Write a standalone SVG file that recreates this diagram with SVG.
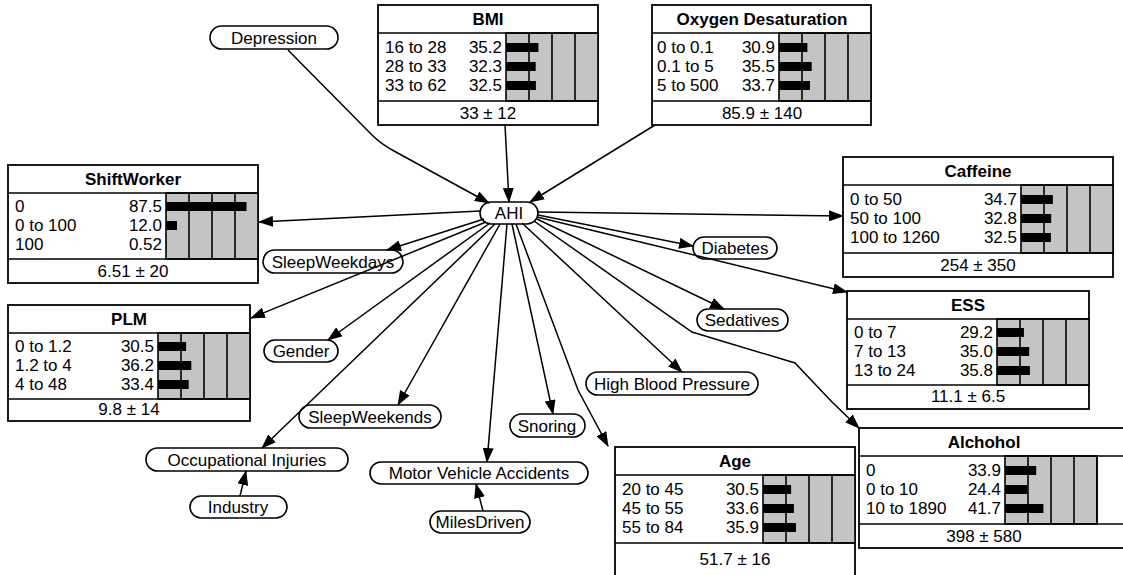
<svg xmlns="http://www.w3.org/2000/svg" width="1123" height="575" viewBox="0 0 1123 575">
<defs>
<marker id="arr" markerUnits="userSpaceOnUse" markerWidth="15" markerHeight="11" refX="14" refY="5.5" orient="auto">
<path d="M0,0 L15,5.5 L0,11 z" fill="#000"/>
</marker>
</defs>
<style>
text{font-family:"Liberation Sans",Arial,sans-serif;font-size:17px;fill:#000}
.t{font-weight:bold;text-anchor:middle}
.c{text-anchor:middle}
.v{text-anchor:end}
.box{fill:#fff;stroke:#000;stroke-width:1.8}
.pill{fill:#fff;stroke:#000;stroke-width:1.6}
.sh{fill:#c4c4c4;stroke:#000;stroke-width:1.6}
.gl{stroke:#000;stroke-width:1.6}
.bar{fill:#000}
.dv{stroke:#000;stroke-width:1.6}
.ln{fill:none;stroke:#000;stroke-width:1.5;marker-end:url(#arr)}
</style>
<rect width="1123" height="575" fill="#fff"/>

<g id="AHI"><rect class="pill" x="480" y="202" width="58" height="22" rx="11"/><text class="c" x="509" y="219">AHI</text></g>
<g id="Depression"><rect class="pill" x="210" y="26" width="128" height="23" rx="11.5"/><text class="c" x="274" y="43.5">Depression</text></g>
<g id="SleepWeekdays"><rect class="pill" x="263" y="250" width="140" height="23" rx="11.5"/><text class="c" x="333" y="267.5">SleepWeekdays</text></g>
<g id="Diabetes"><rect class="pill" x="693" y="237" width="84" height="22" rx="11"/><text class="c" x="735" y="254">Diabetes</text></g>
<g id="Sedatives"><rect class="pill" x="697" y="309" width="91" height="22" rx="11"/><text class="c" x="742" y="326">Sedatives</text></g>
<g id="Gender"><rect class="pill" x="264" y="340" width="74" height="22" rx="11"/><text class="c" x="301" y="357">Gender</text></g>
<g id="HighBloodPressure"><rect class="pill" x="586" y="372" width="172" height="23" rx="11.5"/><text class="c" x="672" y="389.5">High Blood Pressure</text></g>
<g id="SleepWeekends"><rect class="pill" x="299" y="405" width="142" height="23" rx="11.5"/><text class="c" x="370" y="422.5">SleepWeekends</text></g>
<g id="Snoring"><rect class="pill" x="510" y="414" width="75" height="23" rx="11.5"/><text class="c" x="547" y="431.5">Snoring</text></g>
<g id="OccupationalInjuries"><rect class="pill" x="146" y="448" width="202" height="23" rx="11.5"/><text class="c" x="247" y="465.5">Occupational Injuries</text></g>
<g id="MotorVehicleAccidents"><rect class="pill" x="370" y="462" width="218" height="22" rx="11"/><text class="c" x="479" y="479">Motor Vehicle Accidents</text></g>
<g id="Industry"><rect class="pill" x="190" y="496" width="97" height="22" rx="11"/><text class="c" x="238" y="513">Industry</text></g>
<g id="MilesDriven"><rect class="pill" x="430" y="511" width="100" height="22" rx="11"/><text class="c" x="480" y="528">MilesDriven</text></g>

<!-- links are drawn over the oval nodes, so a link that crosses a label stays visible -->
<g id="connectors">
<path class="ln" d="M288,50 L372,135 Q381,144 394,151 L489,203"/>
<path class="ln" d="M505,125 L509,202"/>
<path class="ln" d="M655,125 L530,202"/>
<path class="ln" d="M480,211 L259,222"/>
<path class="ln" d="M538,212 L843,216"/>
<path class="ln" d="M484,219 L387,250"/>
<path class="ln" d="M538,215 L693,246"/>
<path class="ln" d="M486,222 L251,318"/>
<path class="ln" d="M490,223 L328,340"/>
<path class="ln" d="M537,219 L724,309"/>
<path class="ln" d="M537,217 L847,292"/>
<path class="ln" d="M500,224 L398,405"/>
<path class="ln" d="M495,224 L262,448"/>
<path class="ln" d="M507,224 L487,462"/>
<path class="ln" d="M512,224 L553,414"/>
<path class="ln" d="M516,224 L578,390 L608,446"/>
<path class="ln" d="M522,223 L682,372"/>
<path class="ln" d="M534,221 L692,332 L795,363 L832,402 L859,428"/>
<path class="ln" d="M240,496 L246,471"/>
<path class="ln" d="M483,511 L476,484"/>
</g>

<!-- Boxes: title band 28, states 68, summary 24; bar area is the right 92px -->
<g id="BMI" transform="translate(378,5)">
<rect class="box" width="220" height="120"/>
<rect class="sh" x="128" y="28" width="92" height="68"/>
<line class="gl" x1="151" y1="28" x2="151" y2="96"/><line class="gl" x1="174" y1="28" x2="174" y2="96"/><line class="gl" x1="197" y1="28" x2="197" y2="96"/>
<rect class="bar" x="128" y="38" width="32.4" height="9"/><rect class="bar" x="128" y="57" width="29.7" height="9"/><rect class="bar" x="128" y="76" width="29.9" height="9"/>
<line class="dv" x1="0" y1="28" x2="220" y2="28"/><line class="dv" x1="0" y1="96" x2="220" y2="96"/>
<text class="t" x="110" y="20">BMI</text>
<text x="7" y="48">16 to 28</text><text class="v" x="124" y="48">35.2</text>
<text x="7" y="67">28 to 33</text><text class="v" x="124" y="67">32.3</text>
<text x="7" y="86">33 to 62</text><text class="v" x="124" y="86">32.5</text>
<text class="c" x="110" y="114">33 ± 12</text>
</g>

<g id="OxygenDesaturation" transform="translate(652,5)">
<rect class="box" width="219" height="120"/>
<rect class="sh" x="127" y="28" width="92" height="68"/>
<line class="gl" x1="150" y1="28" x2="150" y2="96"/><line class="gl" x1="173" y1="28" x2="173" y2="96"/><line class="gl" x1="196" y1="28" x2="196" y2="96"/>
<rect class="bar" x="127" y="38" width="28.4" height="9"/><rect class="bar" x="127" y="57" width="32.7" height="9"/><rect class="bar" x="127" y="76" width="31" height="9"/>
<line class="dv" x1="0" y1="28" x2="219" y2="28"/><line class="dv" x1="0" y1="96" x2="219" y2="96"/>
<text class="t" x="110" y="20">Oxygen Desaturation</text>
<text x="5" y="48">0 to 0.1</text><text class="v" x="123" y="48">30.9</text>
<text x="5" y="67">0.1 to 5</text><text class="v" x="123" y="67">35.5</text>
<text x="5" y="86">5 to 500</text><text class="v" x="123" y="86">33.7</text>
<text class="c" x="110" y="114">85.9 ± 140</text>
</g>

<g id="ShiftWorker" transform="translate(8,165)">
<rect class="box" width="250" height="118"/>
<rect class="sh" x="158" y="28" width="92" height="66"/>
<line class="gl" x1="181" y1="28" x2="181" y2="94"/><line class="gl" x1="204" y1="28" x2="204" y2="94"/><line class="gl" x1="227" y1="28" x2="227" y2="94"/>
<rect class="bar" x="158" y="37" width="80.5" height="9"/><rect class="bar" x="158" y="56" width="11" height="9"/><rect class="bar" x="158" y="75" width="0.5" height="9"/>
<line class="dv" x1="0" y1="28" x2="250" y2="28"/><line class="dv" x1="0" y1="94" x2="250" y2="94"/>
<text class="t" x="125" y="20">ShiftWorker</text>
<text x="7" y="47">0</text><text class="v" x="154" y="47">87.5</text>
<text x="7" y="66">0 to 100</text><text class="v" x="154" y="66">12.0</text>
<text x="7" y="85">100</text><text class="v" x="154" y="85">0.52</text>
<text class="c" x="125" y="112">6.51 ± 20</text>
</g>

<g id="Caffeine" transform="translate(843,157)">
<rect class="box" width="270" height="120"/>
<rect class="sh" x="178" y="28" width="92" height="68"/>
<line class="gl" x1="201" y1="28" x2="201" y2="96"/><line class="gl" x1="224" y1="28" x2="224" y2="96"/><line class="gl" x1="247" y1="28" x2="247" y2="96"/>
<rect class="bar" x="178" y="38" width="31.9" height="9"/><rect class="bar" x="178" y="57" width="30.2" height="9"/><rect class="bar" x="178" y="76" width="29.9" height="9"/>
<line class="dv" x1="0" y1="28" x2="270" y2="28"/><line class="dv" x1="0" y1="96" x2="270" y2="96"/>
<text class="t" x="135" y="20">Caffeine</text>
<text x="7" y="48">0 to 50</text><text class="v" x="174" y="48">34.7</text>
<text x="7" y="67">50 to 100</text><text class="v" x="174" y="67">32.8</text>
<text x="7" y="86">100 to 1260</text><text class="v" x="174" y="86">32.5</text>
<text class="c" x="135" y="114">254 ± 350</text>
</g>

<g id="PLM" transform="translate(8,305)">
<rect class="box" width="242" height="116"/>
<rect class="sh" x="150" y="28" width="92" height="66"/>
<line class="gl" x1="173" y1="28" x2="173" y2="94"/><line class="gl" x1="196" y1="28" x2="196" y2="94"/><line class="gl" x1="219" y1="28" x2="219" y2="94"/>
<rect class="bar" x="150" y="37" width="28.1" height="9"/><rect class="bar" x="150" y="56" width="33.3" height="9"/><rect class="bar" x="150" y="75" width="30.7" height="9"/>
<line class="dv" x1="0" y1="28" x2="242" y2="28"/><line class="dv" x1="0" y1="94" x2="242" y2="94"/>
<text class="t" x="121" y="20">PLM</text>
<text x="7" y="47">0 to 1.2</text><text class="v" x="146" y="47">30.5</text>
<text x="7" y="66">1.2 to 4</text><text class="v" x="146" y="66">36.2</text>
<text x="7" y="85">4 to 48</text><text class="v" x="146" y="85">33.4</text>
<text class="c" x="121" y="110">9.8 ± 14</text>
</g>

<g id="ESS" transform="translate(847,291)">
<rect class="box" width="242" height="118"/>
<rect class="sh" x="150" y="28" width="92" height="66"/>
<line class="gl" x1="173" y1="28" x2="173" y2="94"/><line class="gl" x1="196" y1="28" x2="196" y2="94"/><line class="gl" x1="219" y1="28" x2="219" y2="94"/>
<rect class="bar" x="150" y="37" width="26.9" height="9"/><rect class="bar" x="150" y="56" width="32.2" height="9"/><rect class="bar" x="150" y="75" width="32.9" height="9"/>
<line class="dv" x1="0" y1="28" x2="242" y2="28"/><line class="dv" x1="0" y1="94" x2="242" y2="94"/>
<text class="t" x="121" y="20">ESS</text>
<text x="7" y="47">0 to 7</text><text class="v" x="146" y="47">29.2</text>
<text x="7" y="66">7 to 13</text><text class="v" x="146" y="66">35.0</text>
<text x="7" y="85">13 to 24</text><text class="v" x="146" y="85">35.8</text>
<text class="c" x="121" y="111">11.1 ± 6.5</text>
</g>

<g id="Age" transform="translate(615,447)">
<rect class="box" width="240" height="140"/>
<rect class="sh" x="148" y="28" width="92" height="68"/>
<line class="gl" x1="171" y1="28" x2="171" y2="96"/><line class="gl" x1="194" y1="28" x2="194" y2="96"/><line class="gl" x1="217" y1="28" x2="217" y2="96"/>
<rect class="bar" x="148" y="38" width="28.1" height="9"/><rect class="bar" x="148" y="57" width="30.9" height="9"/><rect class="bar" x="148" y="76" width="33" height="9"/>
<line class="dv" x1="0" y1="28" x2="240" y2="28"/><line class="dv" x1="0" y1="96" x2="240" y2="96"/>
<text class="t" x="120" y="20">Age</text>
<text x="7" y="48">20 to 45</text><text class="v" x="144" y="48">30.5</text>
<text x="7" y="67">45 to 55</text><text class="v" x="144" y="67">33.6</text>
<text x="7" y="86">55 to 84</text><text class="v" x="144" y="86">35.9</text>
<text class="c" x="120" y="118">51.7 ± 16</text>
</g>

<g id="Alchohol" transform="translate(859,428)">
<rect class="box" width="280" height="120"/>
<rect class="sh" x="146" y="28" width="92" height="68"/>
<line class="gl" x1="169" y1="28" x2="169" y2="96"/><line class="gl" x1="192" y1="28" x2="192" y2="96"/><line class="gl" x1="215" y1="28" x2="215" y2="96"/><line class="gl" x1="238" y1="28" x2="238" y2="96"/>
<rect class="bar" x="146" y="38" width="31.2" height="9"/><rect class="bar" x="146" y="57" width="22.4" height="9"/><rect class="bar" x="146" y="76" width="38.4" height="9"/>
<line class="dv" x1="0" y1="28" x2="280" y2="28"/><line class="dv" x1="0" y1="96" x2="280" y2="96"/>
<text class="t" x="125" y="20">Alchohol</text>
<text x="7" y="48">0</text><text class="v" x="142" y="48">33.9</text>
<text x="7" y="67">0 to 10</text><text class="v" x="142" y="67">24.4</text>
<text x="7" y="86">10 to 1890</text><text class="v" x="142" y="86">41.7</text>
<text class="c" x="125" y="114">398 ± 580</text>
</g>
</svg>
